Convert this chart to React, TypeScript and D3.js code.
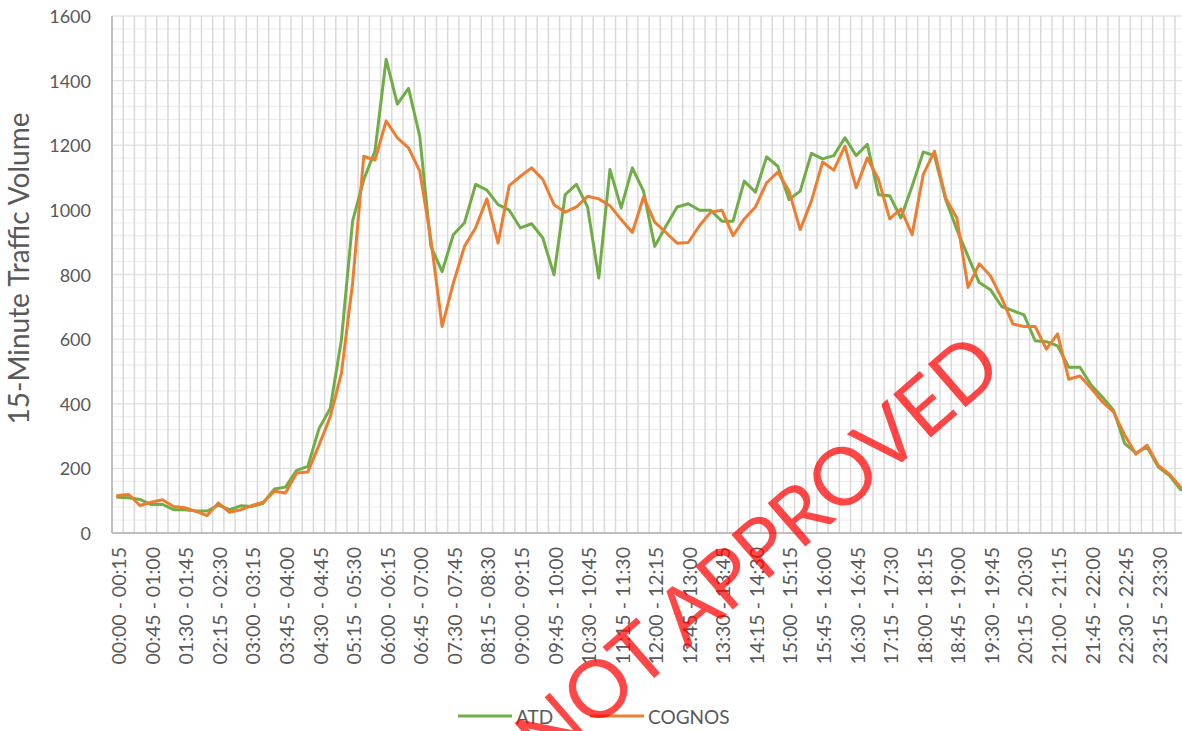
import * as d3 from 'd3';

const W = 1182;
const H = 731;

// 15-minute intervals, 00:00 - 00:15 ... 23:45 - 24:00
const pad = (n: number) => String(n).padStart(2, '0');
const fmt = (m: number) => `${pad(Math.floor(m / 60))}:${pad(m % 60)}`;
const intervals: string[] = d3.range(96).map(i => `${fmt(i * 15)} - ${fmt(i * 15 + 15)}`);

const atd: number[] = [
  111, 109, 104, 88, 89, 72, 72, 68, 68, 86, 72, 84, 82, 92, 136, 142,
  194, 206, 323, 385, 597, 965, 1094, 1182, 1466, 1327, 1376, 1228, 887, 809, 923, 960,
  1079, 1061, 1016, 999, 944, 957, 913, 799, 1047, 1079, 1009, 789, 1125, 1006, 1130, 1058,
  887, 949, 1009, 1019, 999, 999, 965, 965, 1089, 1055, 1164, 1135, 1032, 1058, 1175, 1158,
  1168, 1223, 1168, 1203, 1047, 1044, 975, 1073, 1179, 1168, 1032, 939, 856, 775, 753, 701,
  688, 675, 595, 592, 579, 513, 513, 458, 421, 380, 277, 248, 266, 204, 178, 134,
];

const cognos: number[] = [
  116, 119, 85, 95, 103, 82, 78, 67, 54, 93, 64, 72, 85, 95, 129, 124,
  186, 189, 272, 359, 494, 773, 1166, 1154, 1275, 1223, 1192, 1120, 908, 639, 773, 887,
  945, 1034, 897, 1075, 1104, 1130, 1094, 1016, 993, 1009, 1042, 1034, 1013, 970, 930, 1040,
  962, 930, 897, 899, 951, 993, 999, 920, 972, 1009, 1084, 1117, 1058, 939, 1027, 1148,
  1123, 1197, 1068, 1161, 1094, 972, 1003, 923, 1110, 1182, 1037, 975, 760, 833, 796, 727,
  647, 639, 639, 569, 616, 476, 486, 448, 406, 375, 303, 244, 272, 209, 182, 142,
];

const yTicks: number[] = [0, 200, 400, 600, 800, 1000, 1200, 1400, 1600];
const seriesNames = ['ATD', 'COGNOS'];
const seriesColors = ['#70ad47', '#ed7d31'];

const FONT = 'Lato, "Open Sans", sans-serif';

export default function App() {
  const left = 112;
  const step = 11.19;
  const top = 16;
  const bottom = 533;

  const x = d3.scaleBand<string>().domain(intervals).range([left, left + step * intervals.length]).padding(0);
  const y = d3.scaleLinear().domain([0, 1600]).range([bottom, top]);
  const cx = (i: number) => (x(intervals[i]) ?? 0) + x.bandwidth() / 2;

  const line = d3.line<number>()
    .x((_, i) => cx(i))
    .y(d => y(d));

  const minorY = d3.range(0, 1601, 40);
  const labelIdx = d3.range(0, intervals.length, 3);

  return (
    <svg width={W} height={H} style={{ position: 'absolute', left: 0, top: 0, background: '#fff' }}
      fontFamily={FONT}>
      {/* horizontal grid */}
      {minorY.map(v => (
        <line key={'h' + v} x1={left} x2={W} y1={y(v)} y2={y(v)}
          stroke={v % 200 === 0 ? '#e4e4e4' : '#efefef'} strokeWidth={1.3} />
      ))}
      {/* vertical grid at category boundaries */}
      {intervals.map((c, i) => i === 0 ? null : (
        <line key={'v' + i} x1={x(c)} x2={x(c)} y1={top} y2={bottom}
          stroke="#d9d9d9" strokeWidth={1.5} />
      ))}
      {/* axes */}
      <line x1={left} x2={left} y1={top} y2={bottom} stroke="#bfbfbf" strokeWidth={2} />
      <line x1={left} x2={W} y1={bottom} y2={bottom} stroke="#bfbfbf" strokeWidth={2} />

      {yTicks.map(v => (
        <text key={'yt' + v} x={91} y={y(v)} textAnchor="end" dominantBaseline="central"
          fontSize={18} fill="#595959">{v}</text>
      ))}
      {labelIdx.map(i => (
        <text key={'xt' + i} transform={`translate(${cx(i) + 1},${bottom + 14}) rotate(-90)`}
          textAnchor="end" dominantBaseline="central" fontSize={19.5} fill="#595959">
          {intervals[i]}
        </text>
      ))}
      <text transform={`translate(18,${(top + bottom) / 2 - 6}) rotate(-90)`} textAnchor="middle"
        dominantBaseline="central" fontSize={28} fill="#595959">15-Minute Traffic Volume</text>

      {/* series */}
      {[atd, cognos].map((s, k) => (
        <path key={'s' + k} d={line(s) ?? ''} fill="none" stroke={seriesColors[k]}
          strokeWidth={3} strokeLinejoin="round" strokeLinecap="round" />
      ))}

      {/* legend */}
      {seriesNames.map((n, k) => {
        const lx = k === 0 ? 458 : 590;
        return (
          <g key={'lg' + n}>
            <line x1={lx} x2={lx + 54} y1={716} y2={716} stroke={seriesColors[k]} strokeWidth={3} />
            <text x={lx + 58} y={716} dominantBaseline="central" fontSize={19} fill="#595959">{n}</text>
          </g>
        );
      })}

      {/* watermark */}
      <text transform="translate(1006,372) rotate(-41)" textAnchor="end"
        fontSize={80} fill="#ff0000" fillOpacity={0.72} fontFamily={FONT}>NOT APPROVED</text>
    </svg>
  );
}
